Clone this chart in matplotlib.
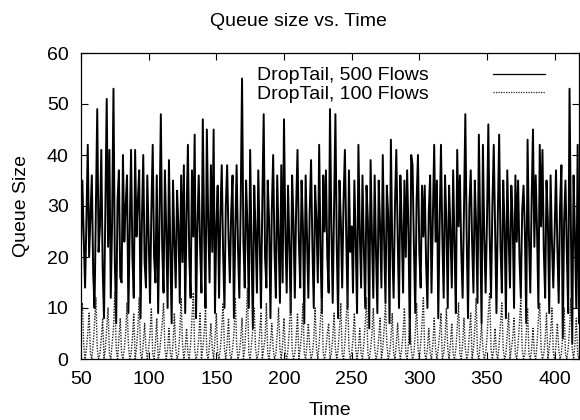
import numpy as np
import matplotlib
matplotlib.use("Agg")
import matplotlib.pyplot as plt

# Tamanho da fila (pacotes), um valor por segundo, t = 50..420
tempo_inicio = 50
tempo_fim = 420

# DropTail, 500 Flows
fila_500_a = [22, 35, 24, 14, 27, 42, 20, 28, 36, 17, 10, 30, 49, 21, 26, 41, 18, 8, 29, 51,
              22, 41, 12, 27, 53, 19, 7, 31, 37, 16, 15, 40, 23, 30, 36, 9, 25, 41, 20, 12,
              41, 24, 31, 37, 8, 27, 40, 19, 14, 36]
fila_500_b = [24, 11, 29, 42, 20, 15, 36, 9, 27, 48, 22, 13, 37, 25, 10, 39, 21, 7, 35, 23,
              14, 33, 26, 11, 36, 19, 38, 9, 28, 42, 20, 12, 37, 24, 44, 8, 26, 36, 22, 13,
              47, 25, 10, 45, 27, 15, 38, 21, 45, 9]
fila_500_c = [26, 34, 12, 28, 38, 21, 10, 30, 38, 24, 15, 29, 36, 8, 25, 38, 22, 12, 30, 55,
              23, 14, 35, 26, 10, 41, 22, 6, 34, 25, 13, 37, 24, 10, 31, 48, 20, 14, 35, 27,
              8, 29, 40, 21, 12, 36, 24, 11, 38, 15]
fila_500_d = [47, 25, 13, 34, 22, 9, 36, 27, 12, 30, 41, 23, 14, 35, 26, 7, 36, 24, 12, 29,
              39, 22, 10, 34, 27, 15, 42, 21, 9, 36, 25, 37, 20, 13, 49, 26, 11, 30, 48, 22,
              8, 35, 27, 14, 31, 41, 24, 10, 37, 21]
fila_500_e = [26, 13, 35, 23, 9, 42, 25, 14, 36, 22, 10, 34, 27, 6, 39, 24, 12, 36, 21, 9,
              35, 26, 14, 40, 23, 11, 34, 28, 7, 43, 22, 12, 30, 41, 24, 10, 36, 26, 13, 35,
              20, 37, 25, 3, 40, 38, 22, 9, 31, 40]
fila_500_f = [21, 14, 34, 24, 34, 19, 10, 29, 36, 13, 27, 42, 23, 35, 8, 26, 42, 24, 12, 36,
              27, 10, 34, 25, 14, 37, 22, 9, 41, 26, 36, 21, 12, 29, 48, 24, 8, 30, 37, 23,
              13, 35, 26, 11, 44, 25, 7, 42, 24, 13]
fila_500_g = [27, 46, 24, 12, 30, 42, 25, 9, 28, 44, 22, 13, 35, 26, 8, 37, 24, 14, 34, 27,
              10, 36, 23, 35, 20, 12, 29, 34, 25, 7, 43, 24, 13, 31, 45, 22, 36, 25, 10, 42,
              26, 41, 21, 12, 35, 27, 9, 36, 23, 14]
fila_500_h = [25, 37, 22, 11, 30, 38, 4, 27, 35, 21, 9, 53, 26, 3, 36, 24, 10, 42, 7, 36, 24]

# DropTail, 100 Flows
fila_100_a = [8, 11, 3, 0, 2, 5, 9, 1, 0, 3, 7, 12, 2, 0, 1, 4, 8, 0, 2, 6,
              10, 1, 0, 3, 6, 13, 2, 0, 4, 8, 1, 0, 2, 5, 11, 3, 0, 1, 4, 9,
              0, 2, 6, 12, 1, 0, 3, 7, 2, 0]
fila_100_b = [2, 5, 10, 1, 0, 3, 8, 0, 1, 4, 7, 11, 2, 0, 2, 6, 1, 0, 3, 9,
              2, 0, 1, 5, 12, 3, 0, 2, 6, 1, 0, 3, 8, 13, 2, 0, 1, 4, 9, 0,
              2, 5, 10, 1, 0, 3, 7, 2, 0, 4]
fila_100_c = [9, 1, 0, 2, 6, 11, 2, 0, 3, 8, 1, 0, 2, 5, 12, 3, 0, 1, 4, 8,
              0, 2, 7, 14, 1, 0, 3, 6, 10, 2, 0, 1, 5, 9, 0, 2, 4, 11, 1, 0,
              3, 7, 2, 0, 1, 5, 10, 2, 0, 3]
fila_100_d = [8, 1, 0, 2, 6, 13, 2, 0, 1, 4, 9, 0, 2, 5, 11, 1, 0, 3, 7, 2,
              0, 1, 4, 10, 2, 0, 3, 8, 12, 1, 0, 2, 5, 7, 0, 1, 4, 9, 2, 0,
              2, 6, 11, 1, 0, 3, 8, 13, 2, 0]
fila_100_e = [1, 4, 9, 2, 0, 2, 6, 1, 0, 3, 7, 12, 1, 0, 2, 5, 10, 2, 0, 1,
              4, 8, 0, 2, 6, 11, 3, 0, 1, 4, 9, 1, 0, 3, 7, 2, 0, 2, 5, 10,
              1, 0, 3, 8, 2, 0, 1, 5, 11, 2]
fila_100_f = [0, 3, 7, 12, 1, 0, 2, 6, 1, 0, 3, 8, 2, 0, 2, 5, 9, 0, 1, 4,
              10, 2, 0, 3, 7, 1, 0, 2, 6, 11, 1, 0, 3, 8, 2, 0, 1, 5, 9, 0,
              2, 6, 12, 1, 0, 3, 7, 2, 0, 1]
fila_100_g = [4, 9, 13, 2, 0, 2, 6, 1, 0, 3, 7, 11, 2, 0, 1, 5, 9, 0, 2, 4,
              8, 1, 0, 3, 7, 12, 2, 0, 1, 5, 10, 1, 0, 2, 6, 1, 0, 3, 8, 11,
              2, 0, 1, 4, 9, 0, 2, 5, 10, 1]
fila_100_h = [0, 3, 7, 2, 0, 1, 5, 10, 1, 0, 2, 6, 12, 2, 0, 3, 8, 1, 0, 4, 11]

fila_500 = (fila_500_a + fila_500_b + fila_500_c + fila_500_d +
            fila_500_e + fila_500_f + fila_500_g + fila_500_h)
fila_100 = (fila_100_a + fila_100_b + fila_100_c + fila_100_d +
            fila_100_e + fila_100_f + fila_100_g + fila_100_h)
tempo = np.arange(tempo_inicio, tempo_fim + 1)

plt.rcParams['font.family'] = ['Liberation Sans', 'DejaVu Sans']

fig = plt.figure(figsize=(5.8, 4.2), dpi=100)
ax = fig.add_axes([81 / 580, 1 - 359 / 420, 498 / 580, 306 / 420])

ax.plot(tempo, fila_500, color='black', lw=1.4, label='DropTail, 500 Flows')
ax.plot(tempo, fila_100, color='0.15', lw=1.0, linestyle=(0, (1, 1)),
        label='DropTail, 100 Flows')

ax.set_xlim(50, 418)
ax.set_ylim(0, 60)
ax.set_xticks([50, 100, 150, 200, 250, 300, 350, 400])
ax.set_yticks([0, 10, 20, 30, 40, 50, 60])
ax.tick_params(direction='in', top=True, right=True, length=5, width=0.8,
               labelsize=14, pad=9)
for lado in ax.spines.values():
    lado.set_linewidth(0.9)

ax.set_xlabel('Time', fontsize=14, labelpad=10)
ax.set_ylabel('Queue Size', fontsize=14, labelpad=12)
fig.text(298 / 580, 1 - 22 / 420, 'Queue size vs. Time', fontsize=14,
         ha='center', va='center')

leg = ax.legend(loc='upper right', bbox_to_anchor=(0.932, 0.955), frameon=False,
                markerfirst=False, handlelength=2.7, handletextpad=3.3,
                labelspacing=0.05, borderpad=0, borderaxespad=0, fontsize=14)
leg.get_lines()[0].set_linewidth(0.9)
leg.get_lines()[1].set_linewidth(0.9)

fig.savefig('out.png', dpi=100)
